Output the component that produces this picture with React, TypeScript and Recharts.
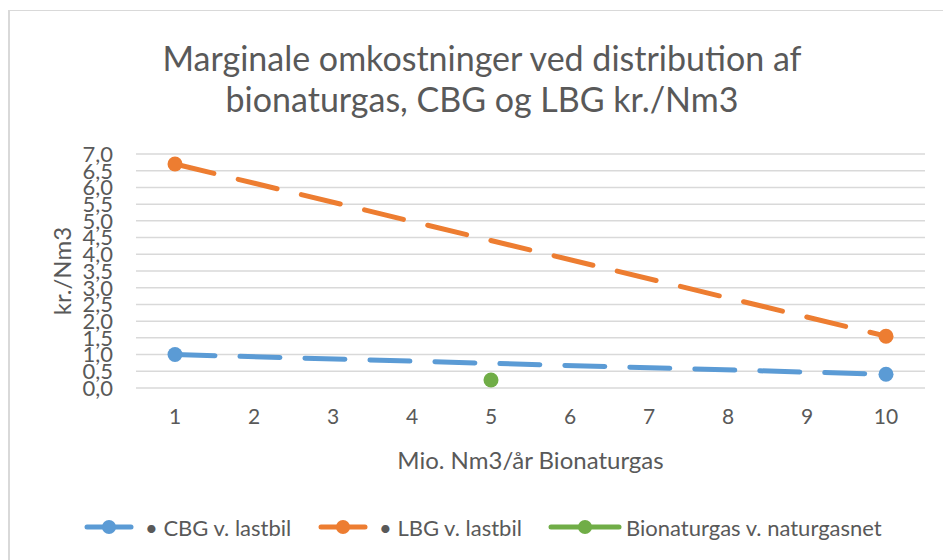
import React from "react";
import { LineChart, Line, XAxis, YAxis, CartesianGrid } from "recharts";

const categories = [1, 2, 3, 4, 5, 6, 7, 8, 9, 10];
const cbgValues: (number | null)[] = [1.0, null, null, null, null, null, null, null, null, 0.41];
const lbgValues: (number | null)[] = [6.7, null, null, null, null, null, null, null, null, 1.55];
const bionatValues: (number | null)[] = [null, null, null, null, 0.24, null, null, null, null, null];
const yTicks = [0, 0.5, 1, 1.5, 2, 2.5, 3, 3.5, 4, 4.5, 5, 5.5, 6, 6.5, 7];

const seriesNames = ["• CBG v. lastbil", "• LBG v. lastbil", "Bionaturgas v. naturgasnet"];
const colors = ["#5B9BD5", "#ED7D31", "#70AD47"];

const data = categories.map((c, i) => ({
  x: c,
  cbg: cbgValues[i],
  lbg: lbgValues[i],
  bio: bionatValues[i],
}));

const FONT = "Lato, 'Open Sans', sans-serif";
const TEXT = "#595959";

const makeDot = (color: string) => (props: any) => {
  const { cx, cy, value, index } = props;
  if (value == null || cx == null || cy == null) return <g key={`d${index}`} />;
  return <circle key={`d${index}`} cx={cx} cy={cy} r={7.5} fill={color} stroke="none" />;
};

const legendLeft = [84, 318, 548];
const legendLineW = [50, 50, 74];
const legendGap = [11, 11, 4];

export default function App() {
  return (
    <div style={{ position: "absolute", left: 0, top: 0, width: 943, height: 560, background: "#fff", overflow: "hidden", fontFamily: FONT }}>
      <div style={{ position: "absolute", left: 8, top: 10, width: 1000, height: 600, borderLeft: "2px solid #d9d9d9", borderTop: "1px solid #d9d9d9" }} />
      <div style={{ position: "absolute", left: 0, width: 964, top: 37, textAlign: "center", fontSize: 34, lineHeight: "41px", color: TEXT, fontFamily: FONT }}>
        Marginale omkostninger ved distribution af
        <br />
        bionaturgas, CBG og LBG kr./Nm3
      </div>
      <div style={{ position: "absolute", left: 0, top: 0 }}>
        <LineChart width={943} height={560} data={data} margin={{ top: 154, right: 18, bottom: 132, left: 0 }}>
          <CartesianGrid vertical={false} stroke="#d9d9d9" strokeWidth={1.5} />
          <XAxis
            dataKey="x"
            type="category"
            axisLine={false}
            tickLine={false}
            tickSize={0}
            tickMargin={21}
            height={40}
            padding={{ left: 39, right: 39 }}
            tick={{ fontSize: 21, fill: TEXT, fontFamily: FONT }}
            label={{
              content: (p: any) => {
                const vb = p.viewBox;
                return (
                  <text x={vb.x + vb.width / 2} y={vb.y + 81} textAnchor="middle" fontSize={24} fill={TEXT} fontFamily={FONT}>
                    Mio. Nm3/år Bionaturgas
                  </text>
                );
              },
            }}
          />
          <YAxis
            type="number"
            domain={[0, 7]}
            ticks={yTicks}
            interval={0}
            width={136}
            axisLine={false}
            tickLine={false}
            tickSize={0}
            tickMargin={23}
            tickFormatter={(v: number) => v.toFixed(1).replace(".", ",")}
            tick={{ fontSize: 22, fill: TEXT, fontFamily: FONT }}
            label={{
              content: (p: any) => {
                const vb = p.viewBox;
                const cx = vb.x + 61;
                const cy = vb.y + vb.height / 2;
                return (
                  <text x={cx} y={cy} transform={`rotate(-90 ${cx} ${cy})`} textAnchor="middle" dominantBaseline="central" fontSize={24} fill={TEXT} fontFamily={FONT}>
                    kr./Nm3
                  </text>
                );
              },
            }}
          />
          <Line
            dataKey="cbg"
            name={seriesNames[0]}
            stroke={colors[0]}
            strokeWidth={5}
            strokeDasharray="40 25"
            strokeLinecap="round"
            connectNulls
            dot={makeDot(colors[0])}
            activeDot={false}
            isAnimationActive={false}
          />
          <Line
            dataKey="lbg"
            name={seriesNames[1]}
            stroke={colors[1]}
            strokeWidth={5}
            strokeDasharray="40 25"
            strokeLinecap="round"
            connectNulls
            dot={makeDot(colors[1])}
            activeDot={false}
            isAnimationActive={false}
          />
          <Line
            dataKey="bio"
            name={seriesNames[2]}
            stroke={colors[2]}
            strokeWidth={5}
            connectNulls
            dot={makeDot(colors[2])}
            activeDot={false}
            isAnimationActive={false}
          />
        </LineChart>
      </div>
      {seriesNames.map((name, i) => (
        <div key={name} style={{ position: "absolute", left: legendLeft[i], top: 514, height: 26, display: "flex", alignItems: "center" }}>
          <svg width={legendLineW[i]} height={26} style={{ display: "block" }}>
            <line x1={3} y1={13} x2={legendLineW[i] - 3} y2={13} stroke={colors[i]} strokeWidth={5} strokeLinecap="round" />
            <circle cx={legendLineW[i] / 2} cy={13} r={7} fill={colors[i]} />
          </svg>
          <span style={{ marginLeft: legendGap[i], fontSize: 22, color: TEXT, fontFamily: FONT, whiteSpace: "nowrap" }}>{name}</span>
        </div>
      ))}
    </div>
  );
}
